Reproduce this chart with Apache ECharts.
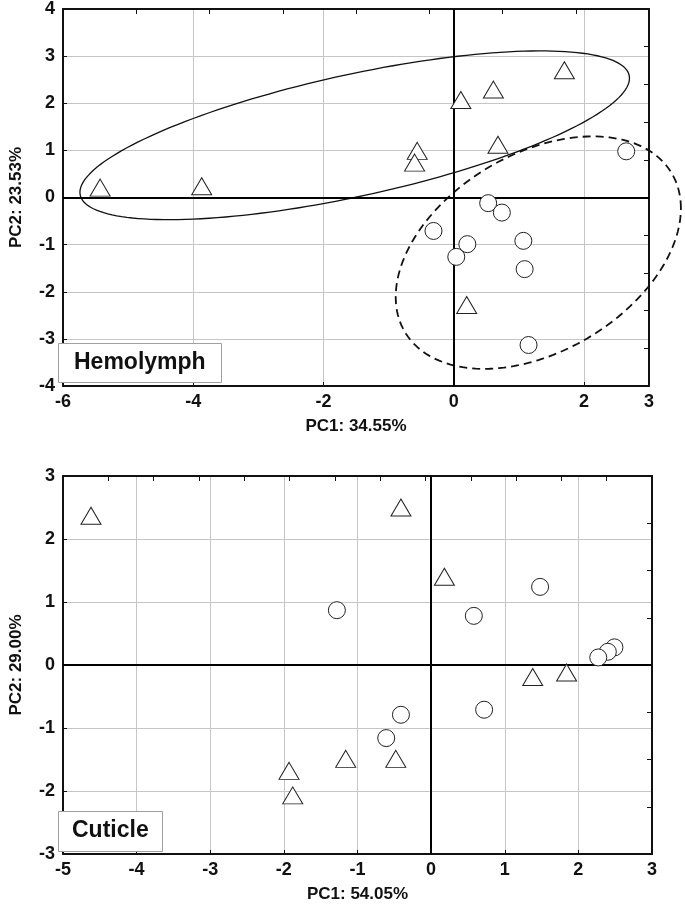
<!DOCTYPE html>
<html><head><meta charset="utf-8">
<script src="https://cdn.jsdelivr.net/npm/echarts@6/dist/echarts.min.js"></script>
<style>html,body{margin:0;padding:0;background:#fff}#c{width:685px;height:905px}</style>
</head><body><div id="c"></div>
<script>
// ---- Hemolymph PCA scores ----
const hemoTriangles = [[-5.43,0.21],[-3.87,0.24],[1.70,2.70],[0.61,2.29],[0.11,2.07],[-0.56,0.99],[-0.60,0.74],[0.68,1.12],[0.20,-2.28]];
const hemoCircles = [[2.65,0.98],[0.53,-0.12],[0.74,-0.32],[-0.31,-0.71],[0.21,-0.99],[0.04,-1.26],[1.07,-0.92],[1.09,-1.52],[1.15,-3.13]];
// ---- Cuticle PCA scores ----
const cutTriangles = [[-4.62,2.37],[-0.41,2.50],[0.18,1.40],[1.38,-0.19],[1.84,-0.12],[-1.93,-1.68],[-1.88,-2.07],[-1.16,-1.49],[-0.48,-1.49]];
const cutCircles = [[-1.28,0.87],[1.48,1.24],[0.58,0.78],[2.49,0.28],[2.40,0.21],[2.27,0.12],[-0.41,-0.79],[-0.61,-1.16],[0.72,-0.71]];
// ---- Confidence ellipses (center, two conjugate semi-diameters, data units) ----
const ellTriCenter = [-1.52, 1.32], ellTriP = [4.22, 1.21], ellTriQ = [0, 1.32];
const ellCirCenter = [1.30, -1.17], ellCirP = [2.19, 0.94], ellCirQ = [0, 2.28];
// ---- Axis labels / ranges ----
const hemoX = {min:-6, max:3, interval:2, name:'PC1: 34.55%'};
const hemoY = {min:-4, max:4, interval:1, name:'PC2: 23.53%'};
const cutX = {min:-5, max:3, interval:1, name:'PC1: 54.05%'};
const cutY = {min:-3, max:3, interval:1, name:'PC2: 29.00%'};
const panelTitles = ['Hemolymph', 'Cuticle'];

function ellipse(c, p, q) {
  const pts = [];
  const n = 180;
  for (let i = 0; i <= n; i++) {
    const t = 2 * Math.PI * i / n;
    pts.push([c[0] + p[0]*Math.cos(t) + q[0]*Math.sin(t), c[1] + p[1]*Math.cos(t) + q[1]*Math.sin(t)]);
  }
  return pts;
}

const FONT = '"Liberation Sans", Arial, sans-serif';
const gridColor = '#c6c6c6';

function mainX(cfg, gi) {
  return {gridIndex: gi, type:'value', min: cfg.min, max: cfg.max, interval: cfg.interval,
    name: cfg.name, nameLocation:'middle', nameGap: 32,
    nameTextStyle:{fontFamily:FONT, fontWeight:'bold', fontSize:17, color:'#111'},
    axisLine:{show:true, onZero:false, lineStyle:{color:'#111', width:2}},
    axisTick:{show:true, inside:true, length:4, lineStyle:{color:'#111'}},
    axisLabel:{fontFamily:FONT, fontWeight:'bold', fontSize:18, color:'#111', margin:7},
    splitLine:{show:true, lineStyle:{color:gridColor, width:1}}};
}
function mainY(cfg, gi) {
  return {gridIndex: gi, type:'value', min: cfg.min, max: cfg.max, interval: cfg.interval,
    name: cfg.name, nameLocation:'middle', nameGap: 38,
    nameTextStyle:{fontFamily:FONT, fontWeight:'bold', fontSize:17, color:'#111'},
    axisLine:{show:true, onZero:false, lineStyle:{color:'#111', width:2}},
    axisTick:{show:true, inside:true, length:4, lineStyle:{color:'#111'}},
    axisLabel:{fontFamily:FONT, fontWeight:'bold', fontSize:18, color:'#111', margin:8},
    splitLine:{show:true, lineStyle:{color:gridColor, width:1}}};
}
function frameAxis(gi, pos, n) {
  return {gridIndex: gi, type:'value', position: pos, min:0, max:n, interval:1,
    axisLine:{show:true, onZero:false, lineStyle:{color:'#111', width:2}},
    axisTick:{show:true, inside:true, length:5, lineStyle:{color:'#111'}},
    axisLabel:{show:false}, splitLine:{show:false}};
}

function scatter(data, sym, xi, yi) {
  return {type:'scatter', xAxisIndex:xi, yAxisIndex:yi, data: data,
    symbol: sym, symbolSize: sym === 'triangle' ? [20,17] : 17, z: 5,
    itemStyle:{color:'#fff', borderColor:'#222', borderWidth:1, opacity:1},
    emphasis:{disabled:true}};
}
function zeroLines(xi, yi) {
  return {type:'line', xAxisIndex:xi, yAxisIndex:yi, data:[], z:3,
    markLine:{silent:true, symbol:'none', label:{show:false}, animation:false,
      lineStyle:{color:'#000', width:2, type:'solid'},
      data:[{xAxis:0},{yAxis:0}]}};
}
function ellSeries(pts, dashed, xi, yi) {
  return {type:'custom', xAxisIndex:xi, yAxisIndex:yi, data:[0], clip:false, z:4, silent:true,
    renderItem: function (params, api) {
      return {type:'polyline', shape:{points: pts.map(function (p) { return api.coord(p); })},
        style:{fill:null, stroke:'#111', lineWidth: dashed ? 1.8 : 1.3, lineDash: dashed ? [8,5] : null}};
    }};
}

const titleStyle = {fontFamily:FONT, fontWeight:'bold', fontSize:23, color:'#111', lineHeight:26};
const chart = echarts.init(document.getElementById('c'), null, {renderer:'canvas'});
chart.setOption({
  animation:false,
  backgroundColor:'#fff',
  title:[
    {text: panelTitles[0], left:58, top:343, padding:[7,16], backgroundColor:'#fff', borderColor:'#a0a0a0', borderWidth:1, textStyle:titleStyle, z:10},
    {text: panelTitles[1], left:58, top:811, padding:[7,14,8,14], backgroundColor:'#fff', borderColor:'#a0a0a0', borderWidth:1, textStyle:titleStyle, z:10}
  ],
  grid:[
    {left:55, top:7, width:594, height:379},
    {left:55, top:476, width:597, height:378}
  ],
  xAxis:[ mainX(hemoX,0), frameAxis(0,'top',8), mainX(cutX,1), frameAxis(1,'top',13) ],
  yAxis:[ mainY(hemoY,0), frameAxis(0,'right',10), mainY(cutY,1), frameAxis(1,'right',8) ],
  series:[
    zeroLines(0,0),
    ellSeries(ellipse(ellTriCenter, ellTriP, ellTriQ), false, 0, 0),
    ellSeries(ellipse(ellCirCenter, ellCirP, ellCirQ), true, 0, 0),
    scatter(hemoCircles, 'circle', 0, 0),
    scatter(hemoTriangles, 'triangle', 0, 0),
    zeroLines(2,2),
    scatter(cutCircles, 'circle', 2, 2),
    scatter(cutTriangles, 'triangle', 2, 2)
  ]
});
</script>
</body></html>
